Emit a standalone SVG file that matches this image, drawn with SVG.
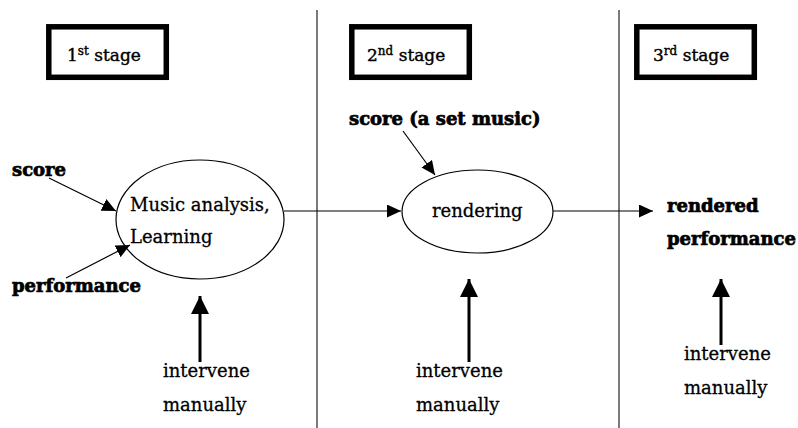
<svg xmlns="http://www.w3.org/2000/svg" width="798" height="428" viewBox="0 0 798 428">
<style>
text{font-family:"DejaVu Serif","Liberation Serif",serif;fill:#000;}
.n{font-size:18px;stroke:#000;stroke-width:0.3;}
.b{font-size:18px;font-weight:bold;stroke:#000;stroke-width:0.7;}
.st{font-size:17px;stroke:#000;stroke-width:0.4;}
.sup{font-size:12px;}
.box{fill:#fff;stroke:#000;stroke-width:5.5;}
.ell{fill:#fff;stroke:#000;stroke-width:1.2;}
.thin{stroke:#000;stroke-width:1.2;fill:none;}
.thick{stroke:#000;stroke-width:3;fill:none;}
.div{stroke:#222;stroke-width:1.2;}
</style>
<defs>
<marker id="ah" markerUnits="userSpaceOnUse" markerWidth="15" markerHeight="13" refX="14" refY="6.5" orient="auto">
<path d="M0,0 L14,6.5 L0,13 z" fill="#000"/>
</marker>
<marker id="ahT" markerUnits="userSpaceOnUse" markerWidth="19" markerHeight="19" refX="18" refY="9" orient="auto">
<path d="M0,0 L18,9 L0,18 z" fill="#000"/>
</marker>
</defs>
<g id="dividers">
<line class="div" x1="317" y1="10" x2="317" y2="428"/>
<line class="div" x1="619" y1="10" x2="619" y2="428"/>
</g>
<g id="stage1">
<rect class="box" x="48.8" y="26.8" width="117.5" height="50.5"/>
<text class="st" x="67" y="61">1<tspan class="sup" dy="-6">st</tspan><tspan dy="6"> stage</tspan></text>
</g>
<g id="stage2">
<rect class="box" x="351.8" y="26.8" width="117.5" height="50.5"/>
<text class="st" x="367" y="61">2<tspan class="sup" dy="-6">nd</tspan><tspan dy="6"> stage</tspan></text>
</g>
<g id="stage3">
<rect class="box" x="636.8" y="26.8" width="117.5" height="50.5"/>
<text class="st" x="653" y="61">3<tspan class="sup" dy="-6">rd</tspan><tspan dy="6"> stage</tspan></text>
</g>
<g id="analysis">
<ellipse class="ell" cx="200" cy="219.5" rx="84" ry="59.5"/>
<text class="n" x="130" y="211">Music analysis,</text>
<text class="n" x="130" y="243">Learning</text>
</g>
<g id="rendering">
<ellipse class="ell" cx="477.5" cy="211.5" rx="75.5" ry="41.5"/>
<text class="n" x="432" y="217">rendering</text>
</g>
<g id="score">
<text class="b" x="12" y="176">score</text>
</g>
<g id="performance">
<text class="b" x="12" y="292">performance</text>
</g>
<g id="score2">
<text class="b" x="349" y="125">score (a set music)</text>
</g>
<g id="rendered">
<text class="b" x="667" y="212">rendered</text>
<text class="b" x="667" y="245">performance</text>
</g>
<g id="manual1">
<text class="n" x="163" y="377">intervene</text>
<text class="n" x="163" y="411">manually</text>
</g>
<g id="manual2">
<text class="n" x="416" y="377">intervene</text>
<text class="n" x="416" y="411">manually</text>
</g>
<g id="manual3">
<text class="n" x="684" y="360">intervene</text>
<text class="n" x="684" y="394">manually</text>
</g>
<g id="connectors">
<line class="thin" x1="49" y1="178" x2="116" y2="211" marker-end="url(#ah)"/>
<line class="thin" x1="66" y1="278" x2="130" y2="245" marker-end="url(#ah)"/>
<line class="thin" x1="403" y1="131" x2="435" y2="175" marker-end="url(#ah)"/>
<line class="thin" x1="284" y1="211" x2="401" y2="211" marker-end="url(#ah)"/>
<line class="thin" x1="553" y1="211" x2="653" y2="211" marker-end="url(#ah)"/>
<line class="thick" x1="200" y1="362" x2="200" y2="296" marker-end="url(#ahT)"/>
<line class="thick" x1="469" y1="362" x2="469" y2="279" marker-end="url(#ahT)"/>
<line class="thick" x1="721" y1="345" x2="721" y2="279" marker-end="url(#ahT)"/>
</g>
</svg>
